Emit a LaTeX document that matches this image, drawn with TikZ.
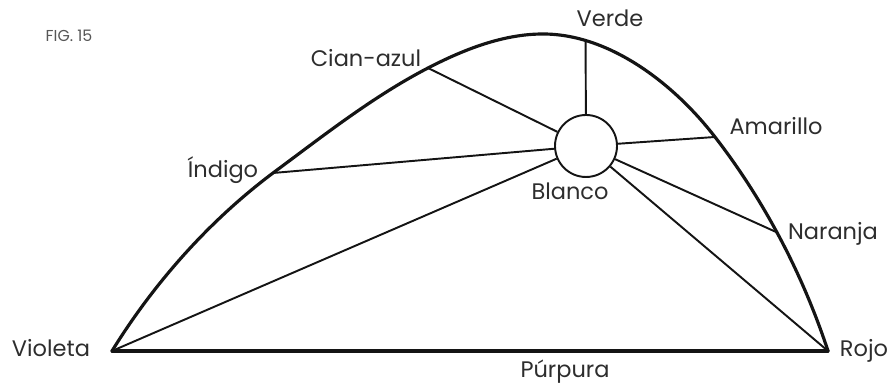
\documentclass[tikz,border=0pt]{standalone}
\usepackage{fontspec}
\setmainfont{Poppins}
\usepackage{tikz}
\usetikzlibrary{positioning}
\definecolor{inkdark}{RGB}{20,20,20}
\definecolor{labelgray}{RGB}{45,45,45}

\begin{document}
\begin{tikzpicture}[
    x=0.2mm,y=0.2mm,
    rim/.style={draw=inkdark,line width=1.8pt,line join=round,line cap=round},
    spoke/.style={draw=inkdark,line width=1.1pt},
    hue/.style={font=\fontsize{12.8}{14}\selectfont,text=labelgray,inner sep=0pt,anchor=base}
]
\useasboundingbox (0,0) rectangle (893,385);

% corners of the base line
\coordinate (viol) at (112,34);
\coordinate (indigo) at (273,212);
\coordinate (cian) at (428,317);
\coordinate (amar) at (715,248);
\coordinate (rojo) at (828,34);

% the rim, with the remaining hues placed on it
\draw[rim] (viol) .. controls (154,102) and (209,164) .. (indigo)
    .. controls (323,249) and (373,288.5) .. (cian)
    .. controls (463.6,335.4) and (503,351) .. (543,351)
    .. controls (608,351) and (672.3,303.3) .. (amar) coordinate[pos=0.22] (verde)
    .. controls (764,184.8) and (802.7,110.9) .. (rojo) coordinate[pos=0.47] (naran);
\draw[rim] (viol) -- (rojo);

\node[circle,draw=inkdark,line width=1.1pt,minimum size=12.4mm,inner sep=0pt,fill=white] (blanco) at (586,239) {};

\foreach \p in {viol,indigo,cian,verde,amar,naran,rojo}
    \draw[spoke] (\p) -- (blanco);

\node[hue,font=\fontsize{9}{10}\selectfont,text=labelgray!80] (fig) at (69,343) {FIG. 15};
\node[hue] (tcian) at (366,318) {Cian-azul};
\node[hue] (tindigo) at (223,207) {Índigo};
\node[hue] (tverde) at (610,358) {Verde};
\node[hue] (tamar) at (776,250) {Amarillo};
\node[hue] (tblanco) at (570,185) {Blanco};
\node[hue] (tnaran) at (833,145) {Naranja};
\node[hue] (trojo) at (864,28) {Rojo};
\node[hue] (tviol) at (51,28) {Violeta};
\node[hue] (tpurp) at (565,7) {Púrpura};
\end{tikzpicture}
\end{document}
